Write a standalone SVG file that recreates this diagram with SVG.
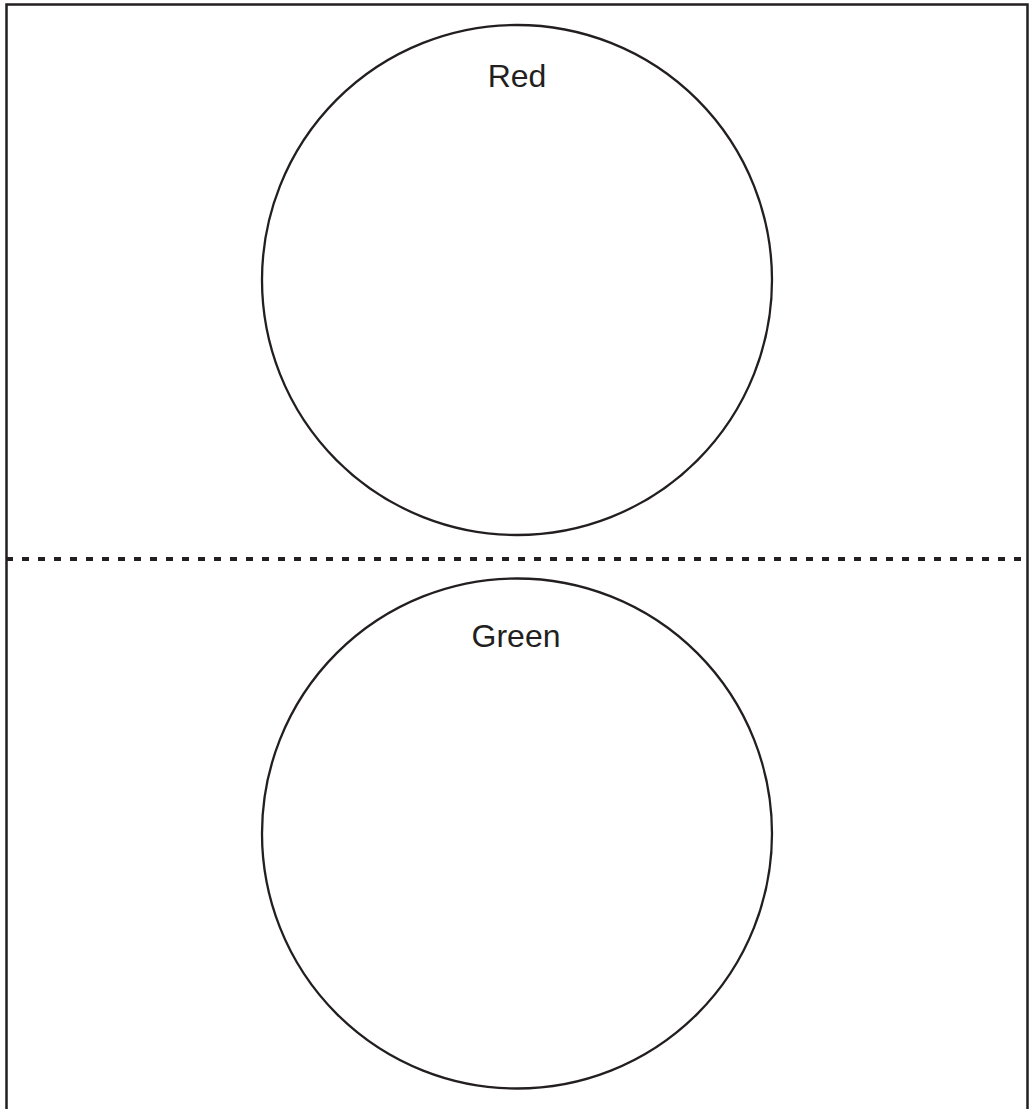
<svg xmlns="http://www.w3.org/2000/svg" width="1029" height="1109" viewBox="0 0 1029 1109">
<style>
.frame{fill:none;stroke:#231f20;stroke-width:2.5}
.circ{fill:none;stroke:#231f20;stroke-width:2.3}
.div{stroke:#231f20;stroke-width:4;stroke-dasharray:7 9}
.lbl{font-family:"Liberation Sans",Arial,sans-serif;font-size:32px;fill:#231f20;text-anchor:middle}
</style>
<rect width="1029" height="1109" fill="#fff"/>
<path class="frame" d="M6.5,1112 V4.5 H1027.5 V1112"/>
<g id="connectors">
<line class="div" x1="6" y1="559" x2="1027" y2="559"/>
</g>
<g id="red">
<circle class="circ" cx="517" cy="280" r="255"/>
<text class="lbl" x="517" y="87">Red</text>
</g>
<g id="green">
<circle class="circ" cx="517" cy="833.5" r="255"/>
<text class="lbl" x="516" y="647">Green</text>
</g>
</svg>
